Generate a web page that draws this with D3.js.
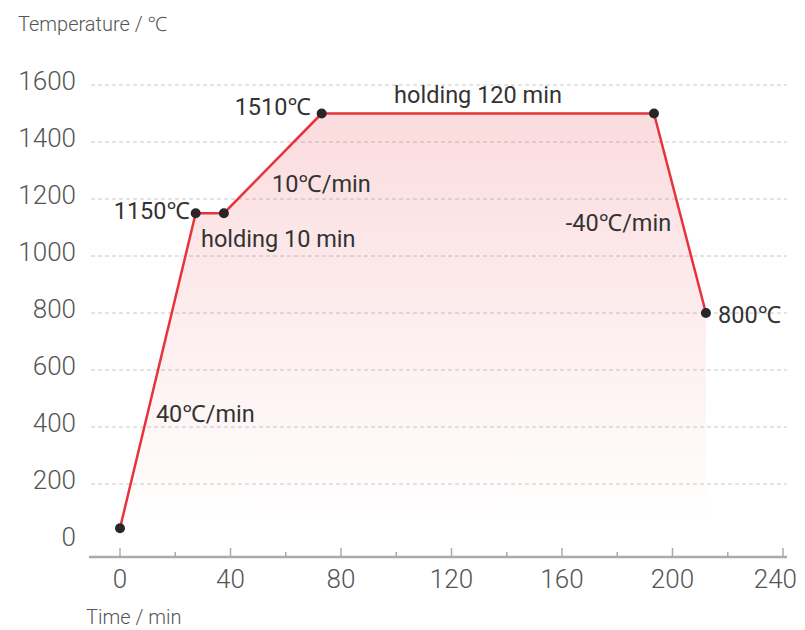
<!DOCTYPE html>
<html><head><meta charset="utf-8">
<script src="https://cdn.jsdelivr.net/npm/d3@7"></script>
<style>body{margin:0;background:#fff;} svg text{font-family:Roboto,"Noto Sans",sans-serif;}</style>
</head><body>
<svg id="c" width="805" height="630"></svg>
<script>
const times = [0, 27.4, 37.6, 73, 193.3, 212.1];
const temps = [45, 1150, 1150, 1500, 1500, 800];
const xTicks = [0, 40, 80, 120, 160, 200, 240];
const yTicks = [0, 200, 400, 600, 800, 1000, 1200, 1400, 1600];
const annLabels = ["1510℃", "holding 120 min", "10℃/min", "1150℃", "holding 10 min", "-40℃/min", "800℃", "40℃/min"];
const annTimes = [69.1, 129.6, 55, 25.3, 29.3, 161.4, 216.5, 13];
const annTemps = [1525, 1564, 1252, 1157, 1059, 1118, 793, 445];
const annAnchor = ["end", "middle", "start", "end", "start", "start", "start", "start"];

const svg = d3.select("#c");
const x = d3.scaleLinear().domain([0, 240]).range([120, 783]);
const y = d3.scaleLinear().domain([0, 1600]).range([541, 85]);
const data = times.map((t, i) => ({t, v: temps[i]}));

const defs = svg.append("defs");
const g = defs.append("linearGradient").attr("id", "fill").attr("x1", 0).attr("y1", 0).attr("x2", 0).attr("y2", 1);
g.append("stop").attr("offset", "0%").attr("stop-color", "#e8303a").attr("stop-opacity", 0.17);
g.append("stop").attr("offset", "100%").attr("stop-color", "#e8303a").attr("stop-opacity", 0);

// grid
svg.append("g").selectAll("line").data(yTicks.filter(d => d > 0)).join("line")
  .attr("x1", 91).attr("x2", 787).attr("y1", d => y(d)).attr("y2", d => y(d))
  .attr("stroke", "#c8c8c8").attr("stroke-width", 1).attr("stroke-dasharray", "4,3");

// y labels
svg.append("g").selectAll("text").data(yTicks).join("text")
  .attr("x", 76).attr("y", d => y(d) - 4).attr("dy", "0.36em").attr("text-anchor", "end")
  .attr("font-size", 26).attr("fill", "#555").attr("font-weight", 300).text(d => d);

// area
const area = d3.area().x(d => x(d.t)).y0(y(0) - 20).y1(d => y(d.v));
svg.append("path").datum(data).attr("d", area).attr("fill", "url(#fill)");

// x axis
const axisY = 557;
svg.append("line").attr("x1", 89).attr("x2", 787).attr("y1", axisY).attr("y2", axisY)
  .attr("stroke", "#aaaab0").attr("stroke-width", 2.5);
const minor = d3.range(0, 241, 20);
svg.append("g").selectAll("line").data(minor).join("line")
  .attr("x1", d => x(d)).attr("x2", d => x(d))
  .attr("y1", axisY).attr("y2", d => axisY - (d % 40 === 0 ? 9 : 5))
  .attr("stroke", "#aaaab0").attr("stroke-width", 1.5);
const last = xTicks[xTicks.length - 1];
svg.append("g").selectAll("text").data(xTicks).join("text")
  .attr("x", d => d === last ? Math.min(x(d) + 21, 797) : x(d)).attr("y", 579).attr("dy", "0.36em")
  .attr("text-anchor", d => d === last ? "end" : "middle")
  .attr("font-size", 26).attr("fill", "#555").attr("font-weight", 300).text(d => d);

// axis titles
svg.append("text").attr("x", 18).attr("y", 31).attr("font-size", 20).attr("fill", "#555").attr("font-weight", 300).text("Temperature / ℃");
svg.append("text").attr("x", 86).attr("y", 624).attr("font-size", 20).attr("fill", "#555").attr("font-weight", 300).text("Time / min");

// line
const line = d3.line().x(d => x(d.t)).y(d => y(d.v));
svg.append("path").datum(data).attr("d", line).attr("fill", "none")
  .attr("stroke", "#e8333d").attr("stroke-width", 2.5).attr("stroke-linejoin", "round");

svg.append("g").selectAll("circle").data(data).join("circle")
  .attr("cx", d => x(d.t)).attr("cy", d => y(d.v)).attr("r", 5).attr("fill", "#2a2526");

// annotations
svg.append("g").selectAll("text").data(annLabels).join("text")
  .attr("x", (d, i) => x(annTimes[i])).attr("y", (d, i) => y(annTemps[i]))
  .attr("dy", "0.35em").attr("text-anchor", (d, i) => annAnchor[i])
  .attr("font-size", 23.5).attr("font-weight", 400).attr("fill", "#333").text(d => d);
</script>
</body></html>
